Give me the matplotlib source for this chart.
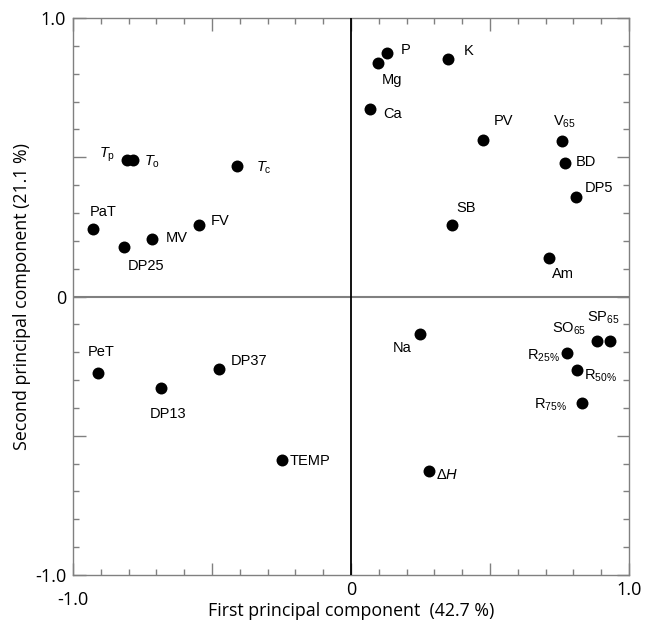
import matplotlib
matplotlib.use("Agg")
import matplotlib.pyplot as plt
import numpy as np

plt.rcParams['mathtext.fontset'] = 'custom'
plt.rcParams['mathtext.rm'] = 'Liberation Sans'
plt.rcParams['mathtext.it'] = 'Liberation Sans:italic'
plt.rcParams['mathtext.bf'] = 'Liberation Sans:bold'

labels = [r"$T_\mathrm{p}$", r"$T_\mathrm{o}$", r"$T_\mathrm{c}$", "PaT", "DP25", "MV", "FV",
          "P", "Mg", "K", "Ca", "PV", r"V$_{65}$", "BD", "DP5", "SB", "Am",
          "PeT", "DP13", "DP37", "TEMP", "Na", r"$\mathit{\Delta H}$",
          r"SO$_{65}$", r"SP$_{65}$", r"R$_{25\%}$", r"R$_{50\%}$", r"R$_{75\%}$"]
pc1 = [-0.805, -0.785, -0.41, -0.927, -0.815, -0.715, -0.546,
       0.128, 0.096, 0.35, 0.068, 0.476, 0.760, 0.770, 0.808, 0.363, 0.711,
       -0.909, -0.685, -0.476, -0.248, 0.249, 0.279,
       0.884, 0.933, 0.777, 0.812, 0.831]
pc2 = [0.49, 0.49, 0.47, 0.242, 0.179, 0.206, 0.255,
       0.875, 0.839, 0.851, 0.673, 0.562, 0.559, 0.479, 0.357, 0.255, 0.140,
       -0.274, -0.327, -0.260, -0.587, -0.135, -0.628,
       -0.158, -0.158, -0.204, -0.264, -0.381]
xtick_labels = ['-1.0', '0', '1.0']
ytick_labels = ['-1.0', '0', '1.0']
# label offsets in pixels (dx, dy), alignment
offsets = [(-20, 5, 'center'), (19, -2, 'center'), (27, -2, 'center'), (10, 17, 'center'),
           (22, -19, 'center'), (25, 1, 'center'), (21, 4, 'center'),
           (19, 3, 'center'), (14, -17, 'center'), (20, 8, 'center'), (23, -5, 'center'),
           (20, 19, 'center'), (2, 19, 'center'), (21, 1, 'center'), (23, 9, 'center'),
           (14, 17, 'center'), (14, -16, 'center'),
           (3, 21, 'center'), (7, -26, 'center'), (30, 8, 'center'), (8, -1, 'left'),
           (-18, -14, 'center'), (19, -4, 'center'),
           (-28, 12, 'center'), (-7, 23, 'center'), (-24, -2, 'center'), (24, -6, 'center'),
           (-32, -2, 'center')]

fig = plt.figure(figsize=(6.49, 6.26), dpi=100)
ax = fig.add_axes([73/649, 1-575/626, 556/649, 557/626])
ax.set_xlim(-1, 1)
ax.set_ylim(-1, 1)

grey = '#808080'
ax.axhline(0, color=grey, lw=1.5, zorder=2.6)
ax.axvline(0, color='black', lw=1.3, zorder=2.7)
ax.scatter(pc1, pc2, s=74, color='black', zorder=3, linewidths=0)

lab_font = dict(family=['Liberation Sans', 'DejaVu Sans'], fontsize=10.5)
for lab, x, y, (dx, dy, ha) in zip(labels, pc1, pc2, offsets):
    ax.annotate(lab, (x, y), xytext=(dx, dy), textcoords='offset pixels',
                ha=ha, va='center', **lab_font)

for s in ax.spines.values():
    s.set_color(grey)
    s.set_linewidth(1.0)

axis_font = ['Open Sans', 'DejaVu Sans']
ax.set_xticks([-1, -0.5, 0, 0.5, 1])
ax.set_yticks([-1, -0.5, 0, 0.5, 1])
ax.set_xticklabels(['', '', xtick_labels[1], '', xtick_labels[2]])
ax.set_yticklabels([ytick_labels[0], '', ytick_labels[1], '', ytick_labels[2]])
# the -1.0 label on the x axis sits lower in the reference
ax.annotate(xtick_labels[0], xy=(-1, 0), xycoords=('data', 'axes fraction'),
            xytext=(0, -25), textcoords='offset pixels', ha='center', va='center',
            family=axis_font, fontsize=13)
minor = [v for v in np.round(np.arange(-0.9, 1.0, 0.1), 2) if abs(abs(v) - 0.5) > 1e-6 and abs(v) > 1e-6]
ax.set_xticks(minor, minor=True)
ax.set_yticks(minor, minor=True)
ax.tick_params(which='both', direction='in', top=True, right=True, color=grey, width=1.0)
ax.tick_params(which='major', length=9, labelsize=13)
ax.tick_params(axis='x', which='major', pad=4)
ax.tick_params(axis='y', which='major', pad=5)
ax.tick_params(which='minor', length=4)
for t in ax.get_xticklabels() + ax.get_yticklabels():
    t.set_family(axis_font)

ax.set_xlabel('First principal component  (42.7 %)', family=axis_font,
              fontsize=12.8, va='center')
ax.xaxis.set_label_coords(0.5, (575 - 611) / 557)
ax.set_ylabel('Second principal component (21.1 %)', family=axis_font,
              fontsize=12.8, va='center')
ax.yaxis.set_label_coords((22 - 73) / 556, 0.5)

fig.savefig('out.png', dpi=100)
